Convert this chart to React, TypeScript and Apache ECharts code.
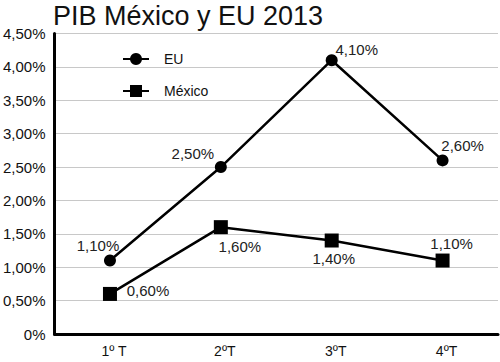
import React, { useEffect, useRef } from "react";
import * as echarts from "echarts";

const categories = ["1º T", "2ºT", "3ºT", "4ºT"];
const euValues = [1.1, 2.5, 4.1, 2.6];
const mexValues = [0.6, 1.6, 1.4, 1.1];
const yTicks = { min: 0, max: 4.5, interval: 0.5 };

const euLabelOffsets = [[-12, -15], [-28, -14], [25, -11], [20, -15]];
const mexLabelOffsets = [[38, -3], [19, 19], [2, 18], [9, -17]];

const FONT = '"Liberation Sans", Arial, Helvetica, sans-serif';
const fmt = (v: number) => (v === 0 ? "0%" : v.toFixed(2).replace(".", ",") + "%");

export default function App() {
  const ref = useRef<HTMLDivElement>(null);
  useEffect(() => {
    if (!ref.current) return;
    const chart = echarts.init(ref.current, undefined, { renderer: "svg" });
    const mk = (vals: number[], offs: number[][]) =>
      vals.map((v, i) => ({
        value: v,
        label: { offset: offs[i] },
      }));
    chart.setOption({
      animation: false,
      backgroundColor: "#fff",
      textStyle: { fontFamily: FONT },
      title: {
        text: "PIB México y EU 2013",
        left: 48,
        top: -3,
        textStyle: { fontFamily: FONT, fontSize: 27, fontWeight: "normal", color: "#111" },
      },
      legend: {
        orient: "vertical",
        left: 117,
        top: 47,
        itemWidth: 26,
        itemHeight: 15,
        itemGap: 18,
        textStyle: { fontFamily: FONT, fontSize: 14, color: "#111", padding: [0, 0, 0, 10] },
        data: ["EU", "México"],
      },
      grid: { left: 53, right: 2, top: 33.5, bottom: 28 },
      xAxis: {
        type: "category",
        data: categories,
        boundaryGap: true,
        axisLine: { lineStyle: { color: "#000", width: 3 } },
        axisTick: { show: false },
        axisLabel: { fontFamily: FONT, fontSize: 14, color: "#111", margin: 10, padding: [0, 0, 0, 8] },
        splitLine: { show: false },
      },
      yAxis: {
        type: "value",
        min: yTicks.min,
        max: yTicks.max,
        interval: yTicks.interval,
        axisLine: { show: true, lineStyle: { color: "#000", width: 3 } },
        axisTick: { show: false },
        axisLabel: { fontFamily: FONT, fontSize: 15, color: "#111", margin: 9, formatter: fmt },
        splitLine: { lineStyle: { color: "#c8c8c8", width: 1 } },
      },
      series: [
        {
          name: "EU",
          type: "line",
          data: mk(euValues, euLabelOffsets),
          symbol: "circle",
          symbolSize: 12,
          itemStyle: { color: "#000" },
          lineStyle: { color: "#000", width: 2.5 },
          label: {
            show: true,
            position: "inside",
            formatter: (p: any) => fmt(p.value),
            fontFamily: FONT,
            fontSize: 15,
            color: "#222",
          },
        },
        {
          name: "México",
          type: "line",
          data: mk(mexValues, mexLabelOffsets),
          symbol: "rect",
          symbolSize: 14,
          itemStyle: { color: "#000" },
          lineStyle: { color: "#000", width: 2.5 },
          label: {
            show: true,
            position: "inside",
            formatter: (p: any) => fmt(p.value),
            fontFamily: FONT,
            fontSize: 15,
            color: "#222",
          },
        },
      ],
    });
    return () => chart.dispose();
  }, []);
  return <div ref={ref} style={{ width: 500, height: 362, position: "absolute", left: 0, top: 0 }} />;
}
